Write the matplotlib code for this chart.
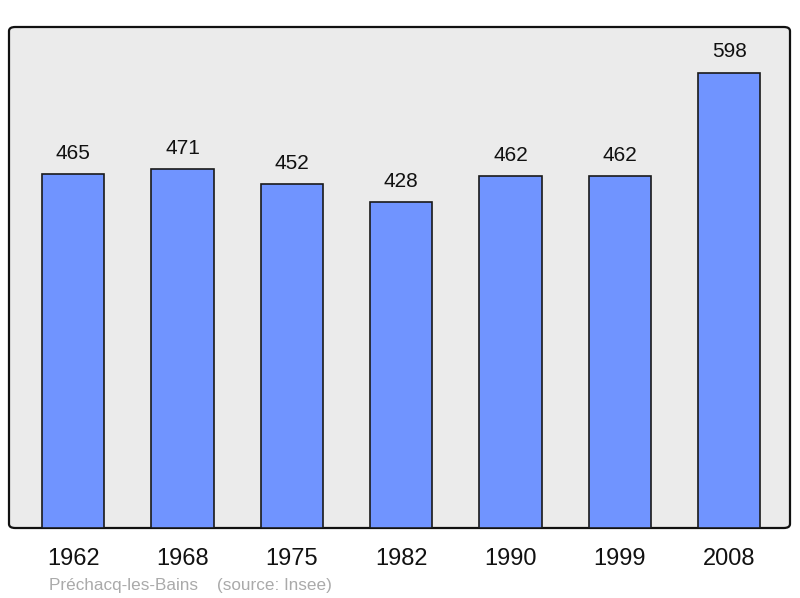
import matplotlib
matplotlib.use("Agg")
import matplotlib.pyplot as plt
from matplotlib.patches import FancyBboxPatch

years = ["1962", "1968", "1975", "1982", "1990", "1999", "2008"]
population = [465, 471, 452, 428, 462, 462, 598]

plt.rcParams['font.family'] = ['Liberation Sans', 'DejaVu Sans']

fig = plt.figure(figsize=(8, 5.98), dpi=100)
ax = fig.add_axes([9/800, 1-528/598, 781/800, 501/598])
ax.set_xlim(-0.586, 6.555)
ax.set_ylim(0, 658)

ax.patch.set_visible(False)
bg = FancyBboxPatch((0, 0), 1, 1, boxstyle="round,pad=0,rounding_size=0.008",
                    transform=ax.transAxes, facecolor="#ebebeb", edgecolor="#111111",
                    linewidth=1.6, zorder=0, clip_on=False)
ax.add_patch(bg)
for s in ax.spines.values():
    s.set_visible(False)

x = list(range(len(years)))
bars = ax.bar(x, population, width=0.57, color="#7094ff", edgecolor="#1a1a1a",
              linewidth=1.2, zorder=2)
for xi, v in zip(x, population):
    ax.annotate(str(v), (xi, v), xytext=(0, 11), textcoords="offset points",
                ha="center", va="baseline", fontsize=15, color="#111111")

ax.set_xticks(x)
ax.set_xticklabels(years, fontsize=17, color="#111111")
ax.tick_params(axis="x", length=0, pad=14.5)
ax.set_yticks([])

fig.text(49/800, 1-590/598, "Préchacq-les-Bains    (source: Insee)", fontsize=12.3,
         color="#aaaaaa", ha="left", va="baseline")

fig.savefig("out.png", dpi=100)
